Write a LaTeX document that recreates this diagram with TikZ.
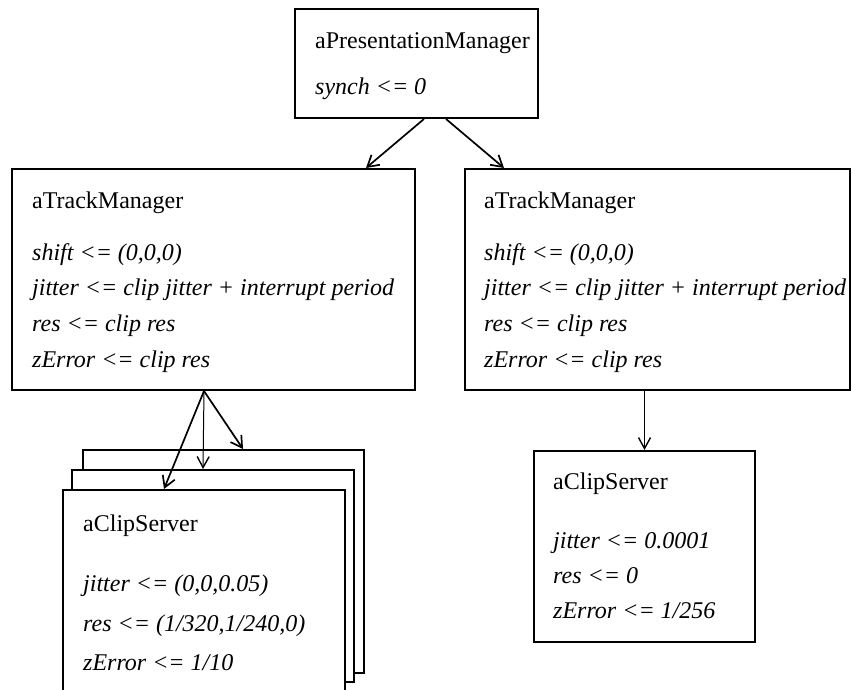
\documentclass[tikz,border=0pt]{standalone}
\usepackage{fontspec}
\setmainfont{Liberation Serif}
\usetikzlibrary{arrows.meta,calc}
\begin{document}
\begin{tikzpicture}[x=1pt,y=-1pt,
  box/.style={draw, line width=2pt, rectangle, inner sep=0pt, anchor=north west, fill=white},
  lbl/.style={anchor=base west, inner sep=0pt, font=\fontsize{24}{28}\selectfont},
  attr/.style={lbl, font=\fontsize{24}{28}\selectfont\itshape},
  link/.style={line width=1.7pt, -{Straight Barb[length=11pt,width=13pt,line width=1.7pt]}},
  thin link/.style={line width=1pt, -{Straight Barb[length=11pt,width=12pt,line width=1.4pt]}}]
\useasboundingbox (0,0) rectangle (852,690);
\clip (0,0) rectangle (852,690);

% presentation manager
\node[box, minimum width=243pt, minimum height=109pt] (pm) at (294,8) {};
\node[lbl]  (pmName)  at (315,49) {aPresentationManager};
\node[attr] (pmSynch) at (315,95) {synch <= 0};

% left track manager
\node[box, minimum width=403pt, minimum height=221pt] (tmL) at (11,168) {};
\node[lbl]  (tmLName)   at (32,208) {aTrackManager};
\node[attr] (tmLShift)  at (32,260) {shift <= (0,0,0)};
\node[attr] (tmLJitter) at (32,295) {jitter <= clip jitter + interrupt period};
\node[attr] (tmLRes)    at (32,331) {res <= clip res};
\node[attr] (tmLZerr)   at (32,367) {zError <= clip res};

% right track manager
\node[box, minimum width=385pt, minimum height=221pt] (tmR) at (464,168) {};
\node[lbl]  (tmRName)   at (484,208) {aTrackManager};
\node[attr] (tmRShift)  at (484,260) {shift <= (0,0,0)};
\node[attr] (tmRJitter) at (484,295) {jitter <= clip jitter + interrupt period};
\node[attr] (tmRRes)    at (484,331) {res <= clip res};
\node[attr] (tmRZerr)   at (484,367) {zError <= clip res};

% stacked clip servers
\node[box, minimum width=281pt, minimum height=223pt] (csBack) at (82,449) {};
\node[box, minimum width=282pt, minimum height=212pt] (csMid)  at (71,469) {};
\node[box, minimum width=282pt, minimum height=240pt] (csFront) at (62,489) {};
\node[lbl]  (csFName)   at (83,531) {aClipServer};
\node[attr] (csFJitter) at (83,591) {jitter <= (0,0,0.05)};
\node[attr] (csFRes)    at (83,631) {res <= (1/320,1/240,0)};
\node[attr] (csFZerr)   at (83,670) {zError <= 1/10};

% single clip server
\node[box, minimum width=221pt, minimum height=191pt] (csR) at (533,450) {};
\node[lbl]  (csRName)   at (553,489) {aClipServer};
\node[attr] (csRJitter) at (553,548) {jitter <= 0.0001};
\node[attr] (csRRes)    at (553,583) {res <= 0};
\node[attr] (csRZerr)   at (553,618) {zError <= 1/256};

% connectors
\draw[link] ($(pm.south)+(7.5,0)$) -- ($(tmL.north)+(152.5,0)$);
\draw[link] ($(pm.south)+(29.5,0)$) -- ($(tmR.north)+(-153.5,0)$);
\draw[link] ($(tmL.south)+(-9.5,0)$) -- ($(csFront.north)+(-40,0)$);
\draw[thin link] ($(tmL.south)+(-9.5,0)$) -- ($(csMid.north)+(-10,0)$);
\draw[link] ($(tmL.south)+(-9.5,0)$) -- ($(csBack.north)+(19.5,0)$);
\draw[thin link] (csR.north |- tmR.south) -- (csR.north);
\end{tikzpicture}
\end{document}
